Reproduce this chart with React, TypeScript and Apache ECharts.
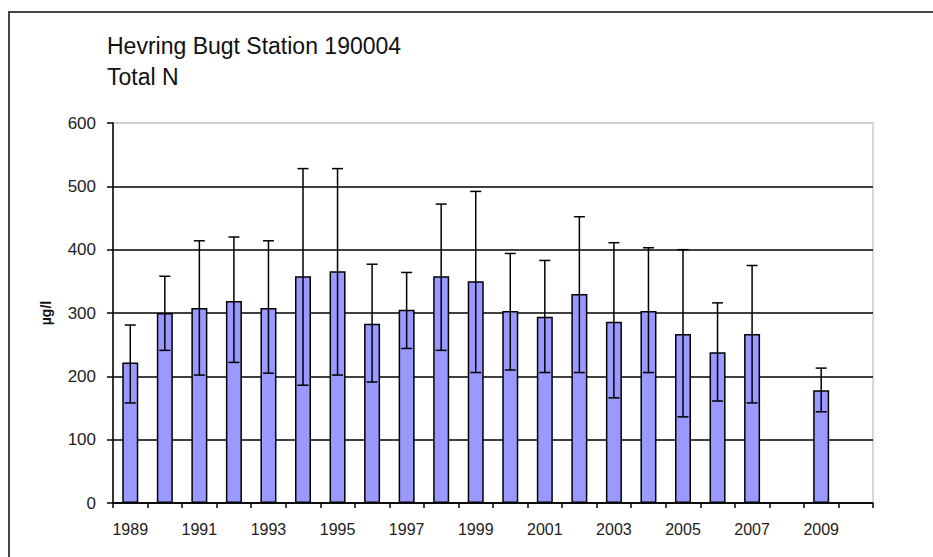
import React, { useEffect, useRef } from "react";
import * as echarts from "echarts";

const years = ["1989","1990","1991","1992","1993","1994","1995","1996","1997","1998","1999","2000","2001","2002","2003","2004","2005","2006","2007","2008","2009","2010"];
const means = [222, 300, 308, 319, 308, 358, 366, 283, 305, 358, 350, 303, 294, 330, 286, 303, 267, 238, 267, null, 178, null];
const errLow = [158, 241, 202, 222, 205, 186, 202, 191, 244, 241, 206, 210, 206, 206, 166, 206, 136, 161, 158, null, 144, null];
const errHigh = [281, 358, 414, 420, 414, 528, 528, 377, 364, 472, 492, 394, 383, 452, 411, 403, 400, 316, 375, null, 213, null];
const yTicks = { min: 0, max: 600, interval: 100 };

export default function App() {
  const ref = useRef<HTMLDivElement>(null);
  useEffect(() => {
    if (!ref.current) return;
    const chart = echarts.init(ref.current, null, { renderer: "svg" });
    const errData: any[] = [];
    years.forEach((_, i) => {
      if (errLow[i] != null && errHigh[i] != null) errData.push([i, errLow[i], errHigh[i]]);
    });
    const font = "'Liberation Sans', Arial, sans-serif";
    chart.setOption({
      animation: false,
      backgroundColor: "#fff",
      title: {
        text: "Hevring Bugt Station 190004\nTotal N",
        left: 102,
        top: 25,
        textStyle: { fontFamily: font, fontSize: 23, fontWeight: "normal", color: "#111", lineHeight: 31 },
      },
      graphic: [
        {
          type: "rect",
          shape: { x: 9, y: 12, width: 1000, height: 700 },
          style: { fill: "none", stroke: "#444", lineWidth: 2 },
          silent: true,
        },
      ],
      grid: {
        left: 113,
        right: 60,
        top: 123,
        bottom: 54,
        show: true,
        borderColor: "#cccccc",
        borderWidth: 1.5,
        backgroundColor: "transparent",
      },
      xAxis: {
        type: "category",
        data: years,
        boundaryGap: true,
        axisLine: { show: true, lineStyle: { color: "#000", width: 1.5 } },
        axisTick: { show: true, interval: 0, length: 5, lineStyle: { color: "#000", width: 1.5 } },
        axisLabel: { interval: 1, fontFamily: font, fontSize: 16, color: "#222", margin: 18 },
        splitLine: { show: false },
      },
      yAxis: {
        type: "value",
        min: yTicks.min,
        max: yTicks.max,
        interval: yTicks.interval,
        name: "µg/l",
        nameLocation: "middle",
        nameRotate: 90,
        nameGap: 60,
        nameTextStyle: { fontFamily: font, fontSize: 14, fontWeight: "bold", color: "#111" },
        axisLine: { show: true, lineStyle: { color: "#000", width: 1.5 } },
        axisTick: { show: true, inside: false, length: 6, lineStyle: { color: "#000", width: 1.5 } },
        axisLabel: { fontFamily: font, fontSize: 17, color: "#222", margin: 17 },
        splitLine: {
          show: true,
          lineStyle: { color: ["#000", "#000", "#000", "#000", "#000", "#000", "#cccccc"], width: 1.5 },
        },
      },
      series: [
        {
          type: "bar",
          data: means,
          barWidth: 16,
          itemStyle: { color: "#9999ff", borderColor: "#000", borderWidth: 1.5 },
          z: 2,
        },
        {
          type: "custom",
          data: errData,
          encode: { x: 0, y: [1, 2] },
          z: 3,
          renderItem: (params: any, api: any) => {
            const i = api.value(0);
            const lo = api.coord([i, api.value(1)]);
            const hi = api.coord([i, api.value(2)]);
            const hw = 5.5;
            const style = { stroke: "#000", lineWidth: 1.5 };
            return {
              type: "group",
              children: [
                { type: "line", shape: { x1: lo[0], y1: lo[1], x2: hi[0], y2: hi[1] }, style },
                { type: "line", shape: { x1: hi[0] - hw, y1: hi[1], x2: hi[0] + hw, y2: hi[1] }, style },
                { type: "line", shape: { x1: lo[0] - hw, y1: lo[1], x2: lo[0] + hw, y2: lo[1] }, style },
              ],
            };
          },
        },
      ],
    });
    return () => chart.dispose();
  }, []);
  return <div ref={ref} style={{ position: "fixed", left: 0, top: 0, width: 933, height: 557 }} />;
}
